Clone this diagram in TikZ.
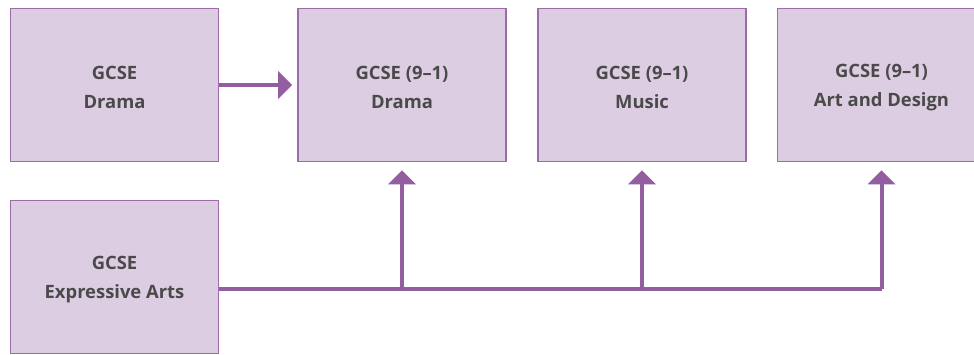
\documentclass[tikz,border=0pt]{standalone}
\usepackage{fontspec}
\setmainfont{Open Sans}
\usetikzlibrary{arrows.meta}
\definecolor{boxfill}{HTML}{DDCDE2}
\definecolor{boxline}{HTML}{9D6BAA}
\definecolor{conncol}{HTML}{935E9F}
\definecolor{txt}{HTML}{4A4A4A}
\tikzset{
  box/.style={draw=boxline, fill=boxfill, line width=1.6pt, minimum width=208pt, minimum height=153pt,
    inner sep=0pt},
  lbl/.style={inner sep=0pt, align=center, text=txt,
    font=\fontsize{18.4pt}{29.3pt}\selectfont\bfseries},
  conn/.style={draw=conncol, line width=4pt},
  arr/.style={conn, -{Triangle[length=14pt,width=27pt]}}
}
\begin{document}
\begin{tikzpicture}[x=1pt,y=-1pt]
\clip (0,0) rectangle (974,354);
\node[box] (b1) at (114.5,85) {};
\node[box] (b2) at (402,85) {};
\node[box] (b3) at (642,85) {};
\node[box] (b4) at (881.5,85) {};
\node[box] (b5) at (114.5,277) {};
\node[lbl] (t1) at ([yshift=-2.5pt]b1.center) {GCSE\\Drama};
\node[lbl] (t2) at ([yshift=-2.5pt]b2.center) {GCSE (9–1)\\Drama};
\node[lbl] (t3) at ([yshift=-2.5pt]b3.center) {GCSE (9–1)\\Music};
\node[lbl] (t4) at ([yshift=-2.5pt]b4.center) {GCSE (9–1)\\Art and Design};
\node[lbl] (t5) at ([yshift=-2.5pt]b5.center) {GCSE\\Expressive Arts};
\coordinate (h) at (0,289);
\draw[arr, shorten >=5pt] (b1.east) -- (b2.west);
\draw[conn] (b5.east |- h) -- (b4.south |- h);
\draw[arr, shorten >=8pt] (b2.south |- h) -- (b2.south);
\draw[arr, shorten >=8pt] (b3.south |- h) -- (b3.south);
\draw[arr, shorten >=8pt] (b4.south |- h) -- (b4.south);
\end{tikzpicture}
\end{document}
